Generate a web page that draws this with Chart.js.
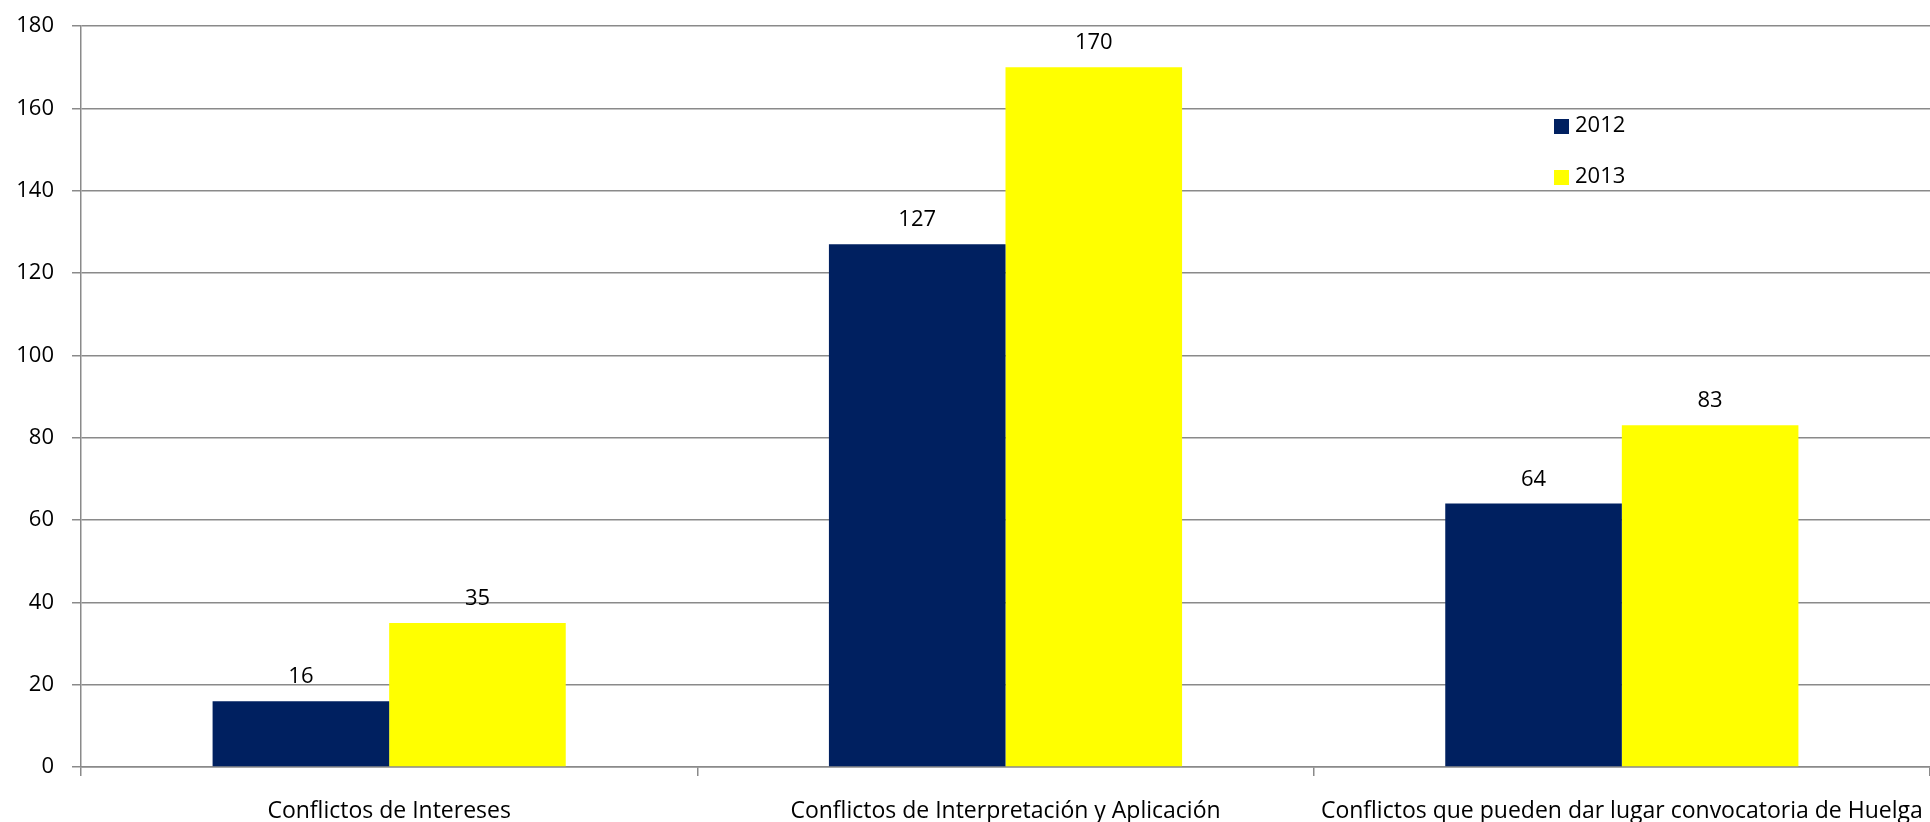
<!DOCTYPE html>
<html>
<head>
<meta charset="utf-8">
<script src="https://cdn.jsdelivr.net/npm/chart.js@4"></script>
<style>
html,body{margin:0;padding:0;background:#fff;}
#wrap{width:1930px;height:822px;position:relative;}
</style>
</head>
<body>
<div id="wrap"><canvas id="c" width="1930" height="822"></canvas></div>
<script>
const categories = ["Conflictos de Intereses", "Conflictos de Interpretación y Aplicación", "Conflictos que pueden dar lugar convocatoria de Huelga"];
const seriesNames = ["2012", "2013"];
const values2012 = [16, 127, 64];
const values2013 = [35, 170, 83];
const seriesColors = ["#002060", "#FFFF00"];
const yTicks = [0, 20, 40, 60, 80, 100, 120, 140, 160, 180];

const FONT = "'Open Sans', sans-serif";

const valueLabels = {
  id: 'valueLabels',
  afterDatasetsDraw(chart) {
    const ctx = chart.ctx;
    ctx.save();
    ctx.font = "22px " + FONT;
    ctx.fillStyle = "#000";
    ctx.textAlign = "center";
    ctx.textBaseline = "alphabetic";
    chart.data.datasets.forEach((ds, i) => {
      const meta = chart.getDatasetMeta(i);
      meta.data.forEach((el, j) => {
        ctx.fillText(String(ds.data[j]), el.x, el.y - 18);
      });
    });
    ctx.restore();
  }
};

const customLegend = {
  id: 'customLegend',
  afterDraw(chart) {
    const ctx = chart.ctx;
    ctx.save();
    ctx.font = "22px " + FONT;
    ctx.textAlign = "left";
    ctx.textBaseline = "middle";
    chart.data.datasets.forEach((ds, i) => {
      const cy = 126 + i * 51;
      ctx.fillStyle = ds.backgroundColor;
      ctx.fillRect(1554, cy - 7, 15, 15);
      ctx.fillStyle = "#000";
      ctx.fillText(ds.label, 1575, cy);
    });
    ctx.restore();
  }
};

new Chart(document.getElementById('c'), {
  type: 'bar',
  data: {
    labels: categories,
    datasets: [
      { label: seriesNames[0], data: values2012, backgroundColor: seriesColors[0], categoryPercentage: 0.573, barPercentage: 1.0 },
      { label: seriesNames[1], data: values2013, backgroundColor: seriesColors[1], categoryPercentage: 0.573, barPercentage: 1.0 }
    ]
  },
  options: {
    responsive: false,
    animation: false,
    events: [],
    layout: { padding: { top: 26, right: 0, bottom: 0, left: 0 } },
    plugins: { legend: { display: false }, tooltip: { enabled: false } },
    scales: {
      x: {
        offset: true,
        grid: { offset: true, drawOnChartArea: false, drawTicks: true, tickLength: 9, color: '#8a8a8a', lineWidth: 1.5 },
        border: { display: true, color: '#8a8a8a', width: 1.5 },
        ticks: { font: { family: FONT, size: 23 }, color: '#000', padding: 22, maxRotation: 0, autoSkip: false },
        afterFit(scale) { scale.height = 55; scale.paddingLeft = 0; scale.paddingRight = 0; }
      },
      y: {
        min: 0, max: 180,
        afterBuildTicks(scale) { scale.ticks = yTicks.map(v => ({ value: v })); },
        grid: { color: '#8a8a8a', lineWidth: 1.5, tickLength: 9, drawTicks: true },
        border: { display: true, color: '#8a8a8a', width: 1.5 },
        ticks: { font: { family: FONT, size: 22 }, color: '#000', padding: 18 },
        afterFit(scale) { scale.width = 81; scale.paddingTop = 0; scale.paddingBottom = 0; }
      }
    }
  },
  plugins: [valueLabels, customLegend]
});
</script>
</body>
</html>
